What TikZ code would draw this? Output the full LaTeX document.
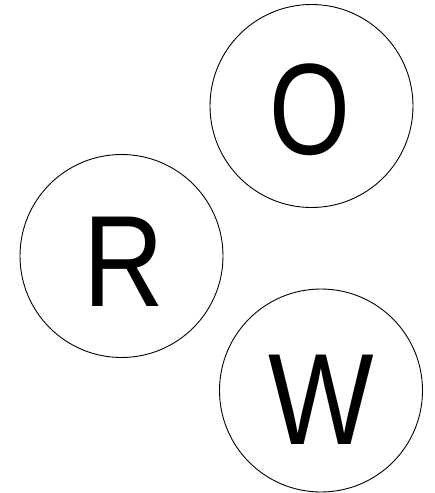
\documentclass[tikz,border=0pt]{standalone}
\usepackage{fontspec}
\setmainfont{Liberation Sans}
\begin{document}
\begin{tikzpicture}[x=1pt,y=-1pt,
  ball/.style={draw=black,line width=0.9pt,circle,minimum size=203pt,inner sep=0pt},
  letter/.style={inner sep=0pt,font=\fontsize{130}{130}\selectfont,xscale=0.86}]
\useasboundingbox (0,0) rectangle (435,493);
\node[ball] (o) at (311.5,106) {};
\node[ball] (r) at (121.5,256) {};
\node[ball] (w) at (321,390.5) {};
\node[letter,xscale=0.93] (ot) at ([xshift=-2pt,yshift=-3.5pt]o.center) {O};
\node[letter] (rt) at ([xshift=2.5pt,yshift=-5.5pt]r.center) {R};
\node[letter] (wt) at ([xshift=0.5pt,yshift=-9pt]w.center) {W};
\end{tikzpicture}
\end{document}
